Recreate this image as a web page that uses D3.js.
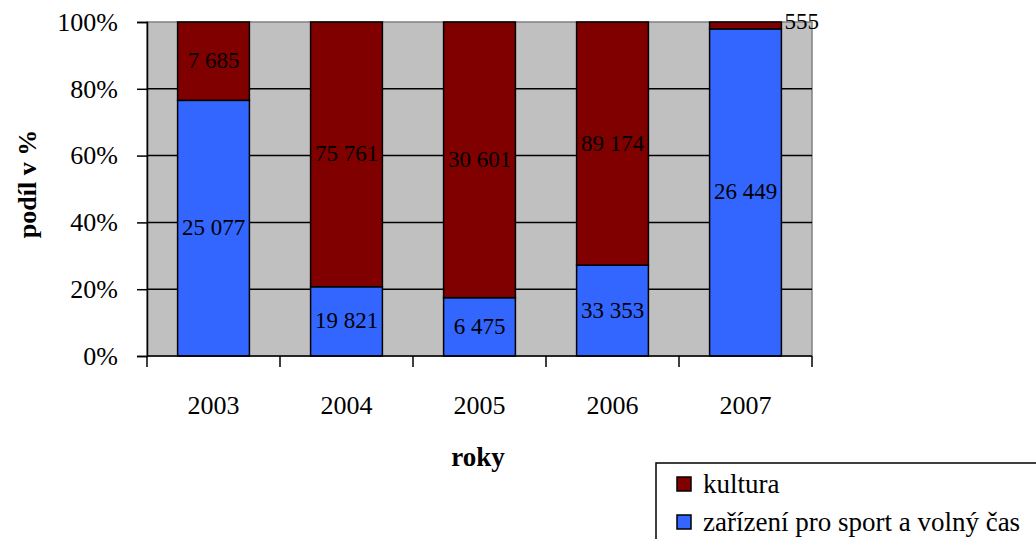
<!DOCTYPE html>
<html>
    <head>
        <meta charset="utf-8">
        <style>
            body { margin: 0; background: #fff; }
            svg text { font-family: "Liberation Serif", Tinos, "Times New Roman", serif; }
        </style>
    </head>
    <body>
        <svg id="chart"></svg>
        <script src="https://cdn.jsdelivr.net/npm/d3@7/dist/d3.min.js"></script>
        <script>
            // data
            const years = ["2003", "2004", "2005", "2006", "2007"];
            const sport = [25077, 19821, 6475, 33353, 26449];
            const kultura = [7685, 75761, 30601, 89174, 555];
            const seriesNames = ["zařízení pro sport a volný čas", "kultura"];
            const seriesColors = ["#3366FF", "#800000"];
            const yTicks = [0, 0.2, 0.4, 0.6, 0.8, 1];

            const width = 1036, height = 539;
            const plot = {left: 147, right: 812, top: 22, bottom: 356};

            const svg = d3.select("#chart").attr("width", width).attr("height", height);

            const rows = years.map((y, i) => ({year: y, sport: sport[i], kultura: kultura[i]}));
            const stacked = d3.stack()
                .keys(["sport", "kultura"])
                .offset(d3.stackOffsetExpand)(rows);

            const x = d3.scaleBand()
                .domain(years)
                .range([plot.left, plot.right])
                .paddingInner(0.46)
                .paddingOuter(0.23);
            const y = d3.scaleLinear().domain([0, 1]).range([plot.bottom, plot.top]);

            // plot background
            svg.append("rect")
                .attr("x", plot.left).attr("y", plot.top)
                .attr("width", plot.right - plot.left).attr("height", plot.bottom - plot.top)
                .attr("fill", "#C0C0C0")
                .attr("stroke", "#808080").attr("stroke-width", 1.5);

            // gridlines
            svg.append("g").selectAll("line")
                .data(yTicks.filter(d => d > 0 && d < 1))
                .join("line")
                .attr("x1", plot.left).attr("x2", plot.right)
                .attr("y1", d => y(d)).attr("y2", d => y(d))
                .attr("stroke", "#000").attr("stroke-width", 1.5);

            // bars
            svg.append("g").selectAll("g")
                .data(stacked)
                .join("g")
                .attr("fill", (d, i) => seriesColors[i])
                .selectAll("rect")
                .data(d => d)
                .join("rect")
                .attr("x", d => x(d.data.year))
                .attr("y", d => y(d[1]))
                .attr("width", x.bandwidth())
                .attr("height", d => y(d[0]) - y(d[1]))
                .attr("stroke", "#000").attr("stroke-width", 1.5);

            // data labels (small segments get their label beside the bar)
            const fmt = v => d3.format(",")(v).replace(/,/g, " ");
            svg.append("g").selectAll("g")
                .data(stacked)
                .join("g")
                .selectAll("text")
                .data(d => d.map(p => ({p: p, v: p.data[d.key]})))
                .join("text")
                .each(function (d) {
                    const h = y(d.p[0]) - y(d.p[1]);
                    const cy = (y(d.p[0]) + y(d.p[1])) / 2;
                    const t = d3.select(this);
                    if (h < 20) {
                        t.attr("x", x(d.p.data.year) + x.bandwidth() + 3)
                            .attr("text-anchor", "start")
                            .attr("y", cy - 4);
                    } else {
                        t.attr("x", x(d.p.data.year) + x.bandwidth() / 2)
                            .attr("text-anchor", "middle")
                            .attr("y", cy - 1);
                    }
                    t.attr("dy", "0.35em");
                })
                .attr("font-size", 23)
                .attr("fill", "#000")
                .text(d => fmt(d.v));

            // y axis
            const yAxis = svg.append("g")
                .attr("transform", `translate(${plot.left},0)`)
                .call(d3.axisLeft(y).tickValues(yTicks).tickFormat(d3.format(".0%")).tickSize(10).tickPadding(19));
            yAxis.attr("font-family", null);
            yAxis.select(".domain").attr("stroke", "#000").attr("stroke-width", 1.5);
            yAxis.selectAll(".tick line").attr("stroke", "#000").attr("stroke-width", 1.5);
            yAxis.selectAll(".tick text")
                .attr("font-size", 26).attr("fill", "#000");

            // x axis: ticks between categories
            const edges = years.map(yr => x(yr) - (x.step() - x.bandwidth()) / 2).concat([plot.right]);
            const xAxis = svg.append("g");
            xAxis.append("line")
                .attr("x1", plot.left).attr("x2", plot.right)
                .attr("y1", plot.bottom).attr("y2", plot.bottom)
                .attr("stroke", "#000").attr("stroke-width", 1.5);
            xAxis.selectAll(".xt")
                .data(edges)
                .join("line")
                .attr("class", "xt")
                .attr("x1", d => d).attr("x2", d => d)
                .attr("y1", plot.bottom).attr("y2", plot.bottom + 11)
                .attr("stroke", "#000").attr("stroke-width", 1.5);
            xAxis.selectAll("text")
                .data(years)
                .join("text")
                .attr("x", d => x(d) + x.bandwidth() / 2)
                .attr("y", 414)
                .attr("text-anchor", "middle")
                .attr("font-size", 26)
                .text(d => d);

            // axis titles
            svg.append("text")
                .attr("transform", "translate(36,184) rotate(-90)")
                .attr("text-anchor", "middle")
                .attr("font-size", 26).attr("font-weight", "bold")
                .text("podíl v %");
            svg.append("text")
                .attr("x", 478).attr("y", 466)
                .attr("text-anchor", "middle")
                .attr("font-size", 27).attr("font-weight", "bold")
                .text("roky");

            // legend
            const legend = svg.append("g");
            legend.append("rect")
                .attr("x", 656).attr("y", 463)
                .attr("width", 420).attr("height", 120)
                .attr("fill", "#fff").attr("stroke", "#000").attr("stroke-width", 1.5);
            const legendOrder = [1, 0];
            const items = legend.selectAll(".item")
                .data(legendOrder)
                .join("g")
                .attr("class", "item")
                .attr("transform", (d, i) => `translate(677,${477 + i * 38})`);
            items.append("rect")
                .attr("width", 14).attr("height", 14)
                .attr("fill", d => seriesColors[d])
                .attr("stroke", "#000").attr("stroke-width", 1.5);
            items.append("text")
                .attr("x", 26).attr("y", 16)
                .attr("font-size", 27)
                .text(d => seriesNames[d]);
        </script>
    </body>
</html>
